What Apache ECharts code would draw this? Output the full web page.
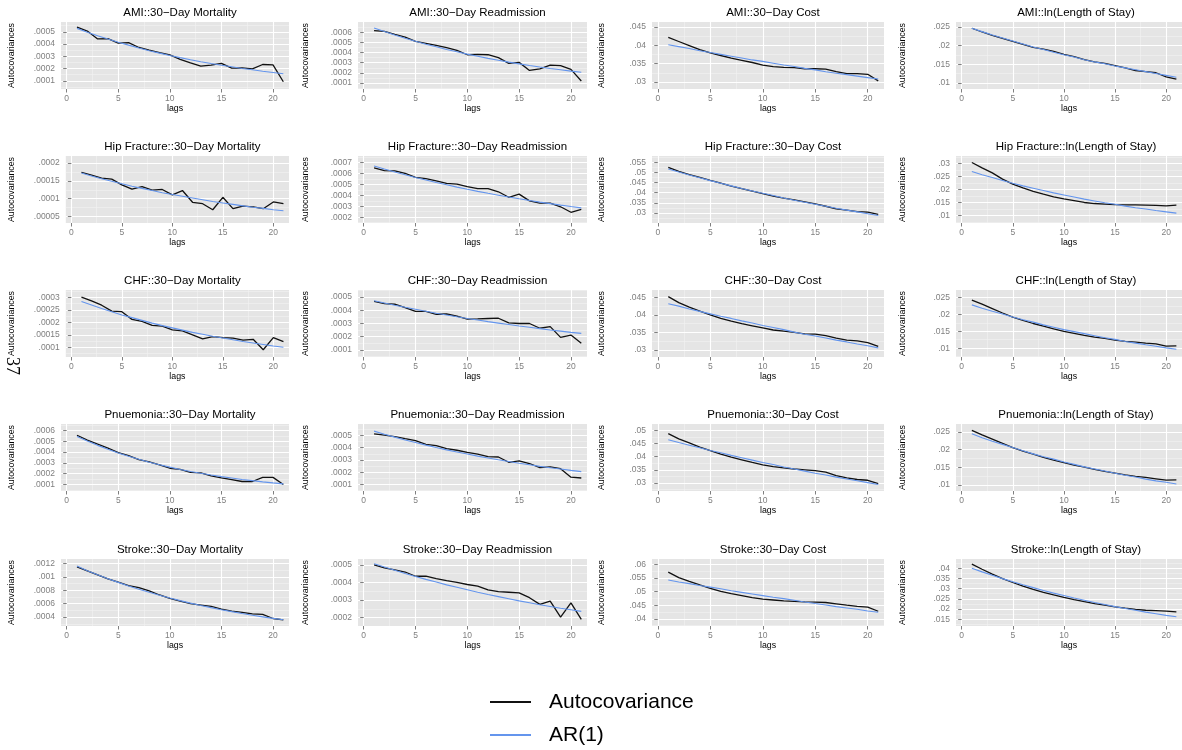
<!DOCTYPE html>
<html>
<head>
<meta charset="utf-8">
<script src="https://cdn.jsdelivr.net/npm/echarts@6/dist/echarts.min.js"></script>
<style>
html,body{margin:0;padding:0;background:#fff;}
#chart{width:1182px;height:750px;}
</style>
</head>
<body>
<div id="chart"></div>
<script>
// ---------------- DATA ----------------
const lags = [1,2,3,4,5,6,7,8,9,10,11,12,13,14,15,16,17,18,19,20,21];
const seriesNames = ['Autocovariance', 'AR(1)'];

const titles = [
  'AMI::30−Day Mortality','AMI::30−Day Readmission','AMI::30−Day Cost','AMI::ln(Length of Stay)',
  'Hip Fracture::30−Day Mortality','Hip Fracture::30−Day Readmission','Hip Fracture::30−Day Cost','Hip Fracture::ln(Length of Stay)',
  'CHF::30−Day Mortality','CHF::30−Day Readmission','CHF::30−Day Cost','CHF::ln(Length of Stay)',
  'Pnuemonia::30−Day Mortality','Pnuemonia::30−Day Readmission','Pnuemonia::30−Day Cost','Pnuemonia::ln(Length of Stay)',
  'Stroke::30−Day Mortality','Stroke::30−Day Readmission','Stroke::30−Day Cost','Stroke::ln(Length of Stay)'
];

// AMI
const acovAmiMort  = [0.000539,0.000506,0.000442,0.000444,0.000408,0.000411,0.000372,0.00035,0.00033,0.000311,0.000275,0.000247,0.00022,0.000228,0.000242,0.000203,0.000206,0.000197,0.000233,0.00023,0.000092];
const ar1AmiMort   = [0.000528,0.000497,0.000468,0.000441,0.000415,0.000391,0.000368,0.000346,0.000326,0.000307,0.000289,0.000272,0.000256,0.000241,0.000227,0.000214,0.000201,0.00019,0.000178,0.000168,0.000158];
const acovAmiReadm = [0.000616,0.000607,0.000578,0.000551,0.000509,0.00049,0.00047,0.000447,0.000421,0.000378,0.000382,0.000378,0.000349,0.000293,0.000303,0.000224,0.00024,0.000276,0.00027,0.000234,0.00012];
const ar1AmiReadm  = [0.000642,0.000606,0.000573,0.000541,0.000511,0.000482,0.000456,0.00043,0.000407,0.000384,0.000363,0.000342,0.000323,0.000305,0.000288,0.000272,0.000257,0.000243,0.00023,0.000217,0.000205];
const acovAmiCost  = [0.0421,0.041,0.0399,0.0388,0.0379,0.0372,0.0365,0.0359,0.0353,0.0346,0.0342,0.034,0.0339,0.0336,0.0336,0.0335,0.0328,0.0323,0.0323,0.0321,0.0303];
const ar1AmiCost   = [0.0401,0.0396,0.0391,0.0385,0.038,0.0375,0.037,0.0365,0.036,0.0356,0.0351,0.0346,0.0342,0.0337,0.0333,0.0328,0.0324,0.032,0.0316,0.0312,0.0308];
const acovAmiLos   = [0.0246,0.0236,0.0227,0.0219,0.0211,0.0203,0.0195,0.019,0.0184,0.0176,0.017,0.0162,0.0156,0.0152,0.0146,0.014,0.0133,0.013,0.0127,0.0116,0.011];
const ar1AmiLos    = [0.0246,0.0237,0.0228,0.022,0.0212,0.0204,0.0196,0.0189,0.0182,0.0175,0.0169,0.0162,0.0156,0.0151,0.0145,0.014,0.0135,0.013,0.0125,0.012,0.0115];
// Hip Fracture
const acovHipMort  = [0.000174,0.000166,0.000158,0.000155,0.000139,0.000127,0.000134,0.000124,0.000126,0.000111,0.000123,0.00009,0.000086,0.000069,0.000104,0.000072,0.000079,0.000077,0.000072,0.000091,0.000086];
const ar1HipMort   = [0.000172,0.000164,0.000156,0.000149,0.000142,0.000135,0.000129,0.000123,0.000117,0.000112,0.000107,0.000102,0.000097,0.000092,0.000088,0.000084,0.00008,0.000076,0.000073,0.000069,0.000066];
const acovHipReadm = [0.00065,0.000626,0.000623,0.0006,0.000564,0.000553,0.000532,0.000509,0.000503,0.000479,0.000461,0.000461,0.000432,0.000382,0.000411,0.000349,0.000328,0.000328,0.000295,0.000245,0.000271];
const ar1HipReadm  = [0.000668,0.00064,0.000613,0.000588,0.000563,0.00054,0.000517,0.000496,0.000475,0.000455,0.000436,0.000418,0.000401,0.000384,0.000368,0.000353,0.000338,0.000324,0.00031,0.000297,0.000285];
const acovHipCost  = [0.0526,0.0506,0.049,0.0476,0.0461,0.0447,0.0433,0.042,0.0408,0.0395,0.0383,0.0373,0.0365,0.0355,0.0345,0.0333,0.032,0.0314,0.0306,0.0304,0.0293];
const ar1HipCost   = [0.0518,0.0503,0.0488,0.0474,0.046,0.0447,0.0434,0.0421,0.0409,0.0397,0.0386,0.0374,0.0363,0.0353,0.0343,0.0333,0.0323,0.0314,0.0305,0.0296,0.0287];
const acovHipLos   = [0.0304,0.0283,0.0264,0.024,0.0221,0.0206,0.0193,0.0182,0.0172,0.0164,0.0157,0.015,0.0146,0.0144,0.0142,0.0141,0.0141,0.014,0.0139,0.0137,0.014];
const ar1HipLos    = [0.0269,0.0257,0.0246,0.0235,0.0224,0.0214,0.0205,0.0196,0.0187,0.0179,0.0171,0.0163,0.0156,0.0149,0.0143,0.0136,0.013,0.0125,0.0119,0.0114,0.0109];
// CHF
const acovChfMort  = [0.000301,0.000286,0.000269,0.000245,0.000243,0.000212,0.000204,0.000188,0.000185,0.00017,0.000166,0.00015,0.000134,0.000143,0.000139,0.000137,0.000129,0.000132,0.00009,0.000139,0.000123];
const ar1ChfMort   = [0.000284,0.00027,0.000256,0.000243,0.00023,0.000219,0.000208,0.000197,0.000187,0.000178,0.000169,0.00016,0.000152,0.000144,0.000137,0.00013,0.000123,0.000117,0.000111,0.000105,0.0001];
const acovChfReadm = [0.000468,0.000451,0.000446,0.000421,0.000392,0.000392,0.00037,0.000372,0.000355,0.000333,0.000335,0.000338,0.00034,0.000305,0.0003,0.0003,0.000264,0.000276,0.000195,0.000212,0.000151];
const ar1ChfReadm  = [0.000473,0.000456,0.000439,0.000423,0.000408,0.000393,0.000378,0.000365,0.000351,0.000338,0.000326,0.000314,0.000303,0.000292,0.000281,0.000271,0.000261,0.000251,0.000242,0.000233,0.000225];
const acovChfCost  = [0.0452,0.0435,0.0422,0.0411,0.04,0.039,0.0382,0.0375,0.0369,0.0363,0.0357,0.0354,0.035,0.0346,0.0345,0.0341,0.0334,0.0328,0.0326,0.0321,0.031];
const ar1ChfCost   = [0.0432,0.0425,0.0417,0.041,0.0403,0.0396,0.039,0.0383,0.0377,0.037,0.0364,0.0358,0.0351,0.0345,0.034,0.0334,0.0328,0.0323,0.0317,0.0312,0.0306];
const acovChfLos   = [0.0242,0.023,0.0217,0.0204,0.0192,0.0182,0.0173,0.0165,0.0157,0.015,0.0144,0.0138,0.0133,0.0129,0.0124,0.012,0.0118,0.0115,0.0113,0.0106,0.0107];
const ar1ChfLos    = [0.0228,0.0218,0.0209,0.0201,0.0192,0.0184,0.0177,0.0169,0.0162,0.0155,0.0149,0.0143,0.0137,0.0131,0.0126,0.012,0.0115,0.011,0.0106,0.0101,0.0097];
// Pnuemonia
const acovPneMort  = [0.000556,0.00051,0.000473,0.000437,0.000395,0.000366,0.00033,0.00031,0.000282,0.00025,0.00024,0.000212,0.000207,0.00018,0.00016,0.000145,0.000127,0.000127,0.000165,0.000165,0.0001];
const ar1PneMort   = [0.000545,0.000502,0.000462,0.000426,0.000392,0.000361,0.000333,0.000306,0.000282,0.00026,0.000239,0.00022,0.000203,0.000187,0.000172,0.000159,0.000146,0.000135,0.000124,0.000114,0.000105];
const acovPneReadm = [0.000513,0.000503,0.00049,0.000473,0.000457,0.000427,0.000417,0.000392,0.000379,0.000361,0.000347,0.000327,0.000324,0.000281,0.000292,0.000271,0.000237,0.000243,0.000229,0.00016,0.000153];
const ar1PneReadm  = [0.000535,0.00051,0.000486,0.000463,0.000442,0.000421,0.000401,0.000382,0.000365,0.000348,0.000331,0.000316,0.000301,0.000287,0.000273,0.000261,0.000248,0.000237,0.000226,0.000215,0.000205];
const acovPneCost  = [0.0488,0.0468,0.0453,0.0437,0.0423,0.041,0.0398,0.0388,0.0378,0.0369,0.0362,0.0357,0.0353,0.035,0.0347,0.0341,0.0328,0.0319,0.0313,0.031,0.0297];
const ar1PneCost   = [0.0465,0.0454,0.0444,0.0434,0.0424,0.0415,0.0405,0.0396,0.0387,0.0378,0.037,0.0361,0.0353,0.0345,0.0337,0.033,0.0322,0.0315,0.0308,0.0301,0.0294];
const acovPneLos   = [0.0255,0.0242,0.023,0.0218,0.0206,0.0196,0.0187,0.0178,0.017,0.0163,0.0156,0.015,0.0144,0.0138,0.0133,0.0128,0.0124,0.0121,0.0117,0.0113,0.0114];
const ar1PneLos    = [0.0245,0.0234,0.0224,0.0215,0.0206,0.0197,0.0188,0.018,0.0173,0.0165,0.0158,0.0151,0.0145,0.0139,0.0133,0.0127,0.0122,0.0116,0.0111,0.0107,0.0102];
// Stroke
const acovStrMort  = [0.00115,0.00109,0.00103,0.00097,0.00092,0.00087,0.00084,0.00079,0.00073,0.00068,0.00064,0.0006,0.00058,0.00056,0.00052,0.00049,0.00047,0.00045,0.00044,0.00038,0.00036];
const ar1StrMort   = [0.00116,0.00109,0.00103,0.000973,0.000918,0.000865,0.000816,0.00077,0.000726,0.000685,0.000646,0.000609,0.000574,0.000542,0.000511,0.000482,0.000454,0.000428,0.000404,0.000381,0.00036];
const acovStrReadm = [0.0005,0.000483,0.000471,0.000459,0.000435,0.000435,0.000421,0.00041,0.0004,0.000388,0.000379,0.000357,0.000347,0.000344,0.00034,0.000313,0.000275,0.000294,0.000202,0.000284,0.00019];
const ar1StrReadm  = [0.000506,0.000487,0.000469,0.000451,0.000434,0.000417,0.000402,0.000386,0.000372,0.000358,0.000344,0.000331,0.000319,0.000307,0.000295,0.000284,0.000273,0.000263,0.000253,0.000244,0.000235];
const acovStrCost  = [0.0571,0.0551,0.0537,0.0524,0.0512,0.0501,0.0492,0.0485,0.0478,0.0472,0.0469,0.0466,0.0464,0.0462,0.0461,0.046,0.0455,0.045,0.0446,0.0443,0.0428];
const ar1StrCost   = [0.0542,0.0535,0.0529,0.0522,0.0516,0.051,0.0503,0.0497,0.0491,0.0485,0.0479,0.0474,0.0468,0.0462,0.0456,0.0451,0.0445,0.044,0.0435,0.0429,0.0424];
const acovStrLos   = [0.042,0.0395,0.0371,0.0349,0.033,0.0312,0.0296,0.0282,0.0269,0.0257,0.0246,0.0236,0.0227,0.0219,0.0211,0.0204,0.0198,0.0194,0.0192,0.019,0.0186];
const ar1StrLos    = [0.04,0.0382,0.0365,0.0349,0.0334,0.0319,0.0305,0.0291,0.0278,0.0266,0.0254,0.0243,0.0232,0.0222,0.0212,0.0203,0.0194,0.0185,0.0177,0.0169,0.0162];

// y-axis tick labels per panel
const ticksMortAmi = [0.0001,0.0002,0.0003,0.0004,0.0005];
const ticksReadmAmi = [0.0001,0.0002,0.0003,0.0004,0.0005,0.0006];
const ticksCost3045 = [0.03,0.035,0.04,0.045];
const ticksLos1025 = [0.01,0.015,0.02,0.025];
const ticksMortHip = [0.00005,0.0001,0.00015,0.0002];
const ticksReadmHip = [0.0002,0.0003,0.0004,0.0005,0.0006,0.0007];
const ticksCostHip = [0.03,0.035,0.04,0.045,0.05,0.055];
const ticksLosHip = [0.01,0.015,0.02,0.025,0.03];
const ticksMortChf = [0.0001,0.00015,0.0002,0.00025,0.0003];
const ticksReadm15 = [0.0001,0.0002,0.0003,0.0004,0.0005];
const ticksMortPne = [0.0001,0.0002,0.0003,0.0004,0.0005,0.0006];
const ticksCostPne = [0.03,0.035,0.04,0.045,0.05];
const ticksMortStr = [0.0004,0.0006,0.0008,0.001,0.0012];
const ticksReadmStr = [0.0002,0.0003,0.0004,0.0005];
const ticksCostStr = [0.04,0.045,0.05,0.055,0.06];
const ticksLosStr = [0.015,0.02,0.025,0.03,0.035,0.04];
const xTicks = [0,5,10,15,20];
const xMinorTicks = [2.5,7.5,12.5,17.5];

// y-axis visible ranges per panel [min, max]
const yRanges = [
  [0.000033,0.00058],[0.000041,0.0007],[0.0281,0.0463],[0.00836,0.02627],
  [0.0000318,0.00022],[0.000147,0.000759],[0.025,0.0582],[0.0071,0.0329],
  [0.000061,0.00033],[0.000046,0.000554],[0.028,0.0471],[0.0074,0.0272],
  [0.000039,0.00066],[0.000047,0.000593],[0.0269,0.0525],[0.00823,0.0273],
  [0.000268,0.001266],[0.000152,0.000533],[0.0374,0.0619],[0.0117,0.0445]
];
const xRange = [-0.55, 21.55];

const acovList = [acovAmiMort,acovAmiReadm,acovAmiCost,acovAmiLos,acovHipMort,acovHipReadm,acovHipCost,acovHipLos,
  acovChfMort,acovChfReadm,acovChfCost,acovChfLos,acovPneMort,acovPneReadm,acovPneCost,acovPneLos,
  acovStrMort,acovStrReadm,acovStrCost,acovStrLos];
const ar1List = [ar1AmiMort,ar1AmiReadm,ar1AmiCost,ar1AmiLos,ar1HipMort,ar1HipReadm,ar1HipCost,ar1HipLos,
  ar1ChfMort,ar1ChfReadm,ar1ChfCost,ar1ChfLos,ar1PneMort,ar1PneReadm,ar1PneCost,ar1PneLos,
  ar1StrMort,ar1StrReadm,ar1StrCost,ar1StrLos];
const tickList = [ticksMortAmi,ticksReadmAmi,ticksCost3045,ticksLos1025,
  ticksMortHip,ticksReadmHip,ticksCostHip,ticksLosHip,
  ticksMortChf,ticksReadm15,ticksCost3045,ticksLos1025,
  ticksMortPne,ticksReadm15,ticksCostPne,ticksLos1025,
  ticksMortStr,ticksReadmStr,ticksCostStr,ticksLosStr];

// ---------------- LAYOUT ----------------
const colLeft = [61, 358, 652, 956];
const colRight = [289, 587, 884, 1186];
const colTitleX = [12, 306, 602, 903];
const rowTop = [22, 156, 290, 424, 559];
const panelH = 67;
const FONT = '"Liberation Sans", Arial, Helvetica, sans-serif';
const BLUE = '#6495ED';

function minorOf(ticks) {
  const out = [];
  for (let i = 0; i < ticks.length - 1; i++) out.push((ticks[i] + ticks[i+1]) / 2);
  out.unshift(ticks[0] - (ticks[1]-ticks[0])/2);
  out.push(ticks[ticks.length-1] + (ticks[1]-ticks[0])/2);
  return out;
}
function fmt(v) { return String(v).replace(/^0\./, '.'); }

const grids = [], xAxes = [], yAxes = [], series = [], titleArr = [];
for (let i = 0; i < 20; i++) {
  const r = Math.floor(i / 4), c = i % 4;
  const ticks = tickList[i];
  const longest = Math.max(...ticks.map(t => fmt(t).length));
  const extra = (longest - 5) * 4.8;
  const left = colLeft[c] + (c >= 2 ? extra + 4.8 : extra);
  const right = colRight[c];
  grids.push({left: left, top: rowTop[r], width: right - left, height: panelH,
    show: true, backgroundColor: '#E5E5E5', borderWidth: 0, containLabel: false});
  const [ymin, ymax] = yRanges[i];
  xAxes.push({type: 'value', gridIndex: i, min: xRange[0], max: xRange[1], position: 'top',
    axisLine: {show: false}, axisTick: {show: false, customValues: xMinorTicks},
    axisLabel: {show: false, customValues: xMinorTicks},
    splitLine: {show: true, lineStyle: {color: '#F2F2F2', width: 0.6}}, silent: true, z: 0});
  yAxes.push({type: 'value', gridIndex: i, min: ymin, max: ymax, position: 'right',
    axisLine: {show: false}, axisTick: {show: false, customValues: minorOf(ticks)},
    axisLabel: {show: false, customValues: minorOf(ticks)},
    splitLine: {show: true, lineStyle: {color: '#F2F2F2', width: 0.6}}, silent: true, z: 0});
  xAxes.push({type: 'value', gridIndex: i, min: xRange[0], max: xRange[1], position: 'bottom',
    axisLine: {show: false},
    axisTick: {show: true, length: 3.5, customValues: xTicks, lineStyle: {color: '#7F7F7F', width: 1}},
    axisLabel: {show: true, customValues: xTicks, color: '#7F7F7F', fontSize: 8.5, fontFamily: FONT, margin: 5},
    splitLine: {show: true, lineStyle: {color: '#FFFFFF', width: 1.1}},
    name: 'lags', nameLocation: 'middle', nameGap: 15,
    nameTextStyle: {fontSize: 8.8, color: '#000', fontFamily: FONT}, z: 1});
  yAxes.push({type: 'value', gridIndex: i, min: ymin, max: ymax, position: 'left',
    axisLine: {show: false},
    axisTick: {show: true, length: 3.5, customValues: ticks, lineStyle: {color: '#7F7F7F', width: 1}},
    axisLabel: {show: true, customValues: ticks, formatter: fmt, color: '#7F7F7F', fontSize: 8.5, fontFamily: FONT, margin: 6},
    splitLine: {show: true, lineStyle: {color: '#FFFFFF', width: 1.1}},
    name: 'Autocovariances', nameLocation: 'middle', nameRotate: 90,
    nameGap: left - colTitleX[c] - 4.5,
    nameTextStyle: {fontSize: 8.8, color: '#000', fontFamily: FONT}, z: 1});
  titleArr.push({text: titles[i], left: (left + right) / 2, top: rowTop[r] - 20, textAlign: 'center',
    textStyle: {fontSize: 11.5, fontWeight: 'normal', color: '#000', fontFamily: FONT}});
  const xa = xAxes.length - 1, ya = yAxes.length - 1;
  series.push({name: seriesNames[0], type: 'line', xAxisIndex: xa, yAxisIndex: ya,
    data: lags.map((l, j) => [l, acovList[i][j]]), showSymbol: false, symbol: 'none',
    lineStyle: {color: '#111', width: 1.3}, itemStyle: {color: '#111'}, silent: true, z: 3});
  series.push({name: seriesNames[1], type: 'line', xAxisIndex: xa, yAxisIndex: ya,
    data: lags.map((l, j) => [l, ar1List[i][j]]), showSymbol: false, symbol: 'none',
    lineStyle: {color: BLUE, width: 1.1}, itemStyle: {color: BLUE}, silent: true, z: 4});
}

const chart = echarts.init(document.getElementById('chart'), null, {renderer: 'canvas'});
chart.setOption({
  animation: false,
  backgroundColor: '#fff',
  title: titleArr,
  grid: grids,
  xAxis: xAxes,
  yAxis: yAxes,
  series: series,
  legend: {
    data: seriesNames, orient: 'vertical', left: 490, top: 691, height: 58, padding: 0,
    icon: 'rect', itemWidth: 41, itemHeight: 2, itemGap: 11,
    textStyle: {fontSize: 21, color: '#000', fontFamily: FONT, padding: [0, 0, 0, 13], lineHeight: 22}
  },
  graphic: [{type: 'text', x: 12, y: 366, rotation: -Math.PI / 2,
    style: {text: '37', font: '18px "Liberation Serif", "Times New Roman", serif', fill: '#000', align: 'center', verticalAlign: 'middle'}}]
});
</script>
</body>
</html>
